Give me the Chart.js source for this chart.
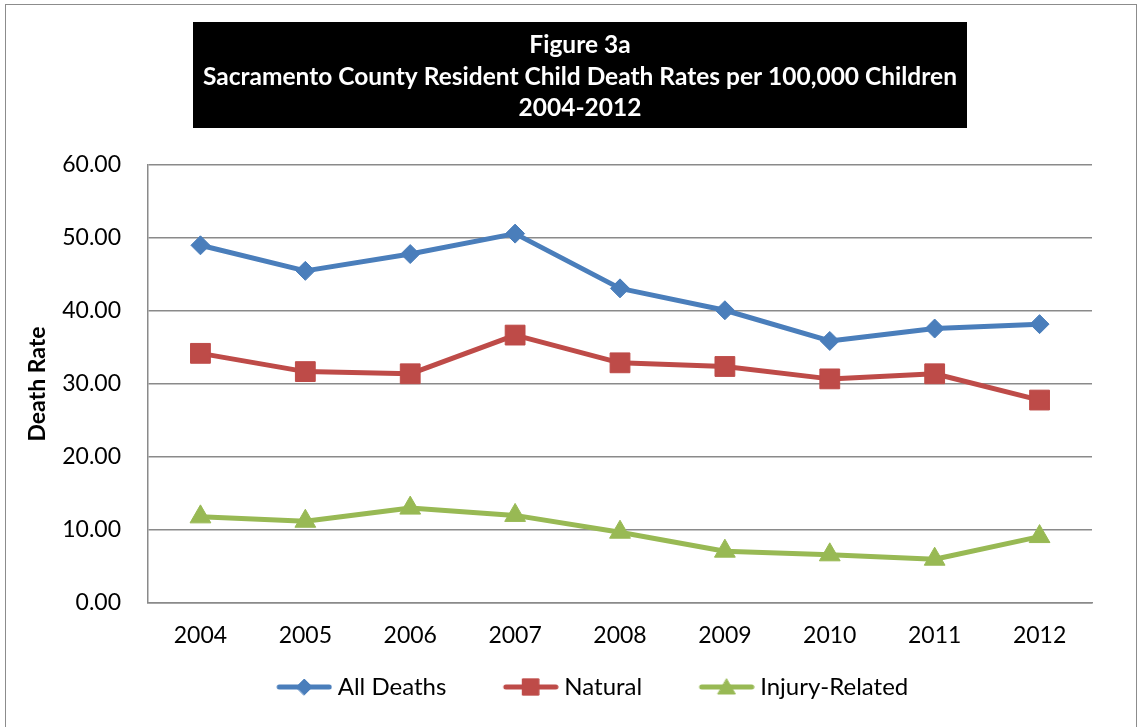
<!DOCTYPE html>
<html>
<head>
<meta charset="utf-8">
<script src="https://cdn.jsdelivr.net/npm/chart.js@4.4.1/dist/chart.umd.min.js"></script>
<style>
  html, body { margin: 0; padding: 0; background: #ffffff; }
  #wrap { position: absolute; left: 0; top: 0; width: 1141px; height: 727px; }
  #frame { position: absolute; left: 5px; top: 4px; width: 1132px; height: 740px; border: 1.5px solid #8c8c8c; box-sizing: border-box; }
  canvas { position: absolute; left: 0; top: 0; }
</style>
</head>
<body>
<div id="wrap">
  <div id="frame"></div>
  <canvas id="c" width="1141" height="727"></canvas>
</div>
<script>
// ---- data ----
const years = ['2004', '2005', '2006', '2007', '2008', '2009', '2010', '2011', '2012'];
const allDeaths = [49.0, 45.5, 47.8, 50.6, 43.1, 40.1, 35.9, 37.6, 38.2];
const natural = [34.2, 31.7, 31.4, 36.7, 32.9, 32.4, 30.7, 31.4, 27.8];
const injuryRelated = [11.8, 11.2, 13.0, 12.0, 9.7, 7.1, 6.6, 6.0, 9.1];
const seriesNames = ['All Deaths', 'Natural', 'Injury-Related'];
const titleLines = ['Figure 3a', 'Sacramento County Resident Child Death Rates per 100,000 Children', '2004-2012'];
const yAxisTitle = 'Death Rate';

const BLUE = '#4a7ebb', RED = '#be4b48', GREEN = '#98b954';
const FONT = 'Lato, "Open Sans", "DejaVu Sans", sans-serif';
const GRID = '#8a8a8a';

function legendImage(color, style, radius) {
  const I = 109, H = 26;
  const cv = document.createElement('canvas');
  cv.width = I; cv.height = H;
  const ctx = cv.getContext('2d');
  ctx.strokeStyle = color; ctx.lineWidth = 5; ctx.lineCap = 'round';
  ctx.beginPath(); ctx.moveTo(56, H / 2); ctx.lineTo(106, H / 2); ctx.stroke();
  ctx.fillStyle = color; ctx.strokeStyle = color; ctx.lineWidth = 1;
  Chart.helpers.drawPoint(ctx, { pointStyle: style, radius: radius, borderWidth: 1, rotation: 0 }, 81, H / 2 + (style === 'triangle' ? 2 : 0));
  return cv;
}

const titleBox = {
  id: 'titleBox',
  beforeDraw(chart) {
    const ctx = chart.ctx;
    ctx.save();
    ctx.fillStyle = '#000000';
    ctx.fillRect(193, 22, 774, 106);
    ctx.fillStyle = '#ffffff';
    ctx.textAlign = 'center';
    ctx.textBaseline = 'middle';
    ctx.font = 'bold 24.5px ' + FONT;
    const ys = [45, 77, 108];
    titleLines.forEach((t, i) => ctx.fillText(t, 580, ys[i]));
    ctx.restore();
  }
};

const styles = ['rectRot', 'rect', 'triangle'];
const colors = [BLUE, RED, GREEN];
const radii = [9.5, 14, 12];
const legendRadii = [8, 11.5, 10];

new Chart(document.getElementById('c'), {
  type: 'line',
  data: {
    labels: years,
    datasets: [allDeaths, natural, injuryRelated].map((d, i) => ({
      label: seriesNames[i],
      data: d,
      borderColor: colors[i],
      backgroundColor: colors[i],
      borderWidth: 5,
      borderJoinStyle: 'round',
      borderCapStyle: 'round',
      pointStyle: styles[i],
      pointRadius: radii[i],
      pointHoverRadius: radii[i],
      pointBorderWidth: 1,
      pointBackgroundColor: colors[i],
      pointBorderColor: colors[i],
      tension: 0,
      fill: false
    }))
  },
  options: {
    responsive: false,
    animation: false,
    events: [],
    layout: { padding: { left: 20, right: 23, top: 165, bottom: 18 } },
    plugins: {
      title: { display: false },
      tooltip: { enabled: false },
      legend: {
        position: 'bottom',
        labels: {
          usePointStyle: true,
          pointStyleWidth: 96,
          padding: 10,
          color: '#000000',
          font: { family: FONT, size: 24 },
          generateLabels(chart) {
            return chart.data.datasets.map((ds, i) => ({
              text: ds.label,
              pointStyle: legendImage(colors[i], styles[i], legendRadii[i]),
              fillStyle: colors[i],
              strokeStyle: colors[i],
              lineWidth: 0,
              hidden: false,
              datasetIndex: i,
              fontColor: '#000000'
            }));
          }
        }
      }
    },
    scales: {
      x: {
        offset: true,
        grid: { display: false, drawTicks: false },
        border: { display: true, color: GRID, width: 1.5 },
        ticks: { color: '#000000', padding: 19, font: { family: FONT, size: 23 } },
        afterFit(scale) { scale.height = 62; }
      },
      y: {
        min: 0,
        max: 60,
        grid: { color: GRID, lineWidth: 1.5, drawTicks: false },
        border: { display: true, color: GRID, width: 1.5 },
        ticks: {
          stepSize: 10,
          color: '#000000',
          padding: 27,
          font: { family: FONT, size: 23 },
          callback: (v) => Number(v).toFixed(2)
        },
        title: {
          display: true,
          text: yAxisTitle,
          color: '#000000',
          font: { family: FONT, size: 23, weight: 'bold' },
          padding: { top: 4, bottom: 4 }
        },
        afterFit(scale) { scale.width = 128; }
      },
      yRightSpace: {
        type: 'linear',
        position: 'right',
        display: true,
        grid: { display: false, drawTicks: false },
        border: { display: false },
        ticks: { display: false },
        afterFit(scale) { scale.width = 26; }
      }
    }
  },
  plugins: [titleBox]
});
</script>
</body>
</html>
